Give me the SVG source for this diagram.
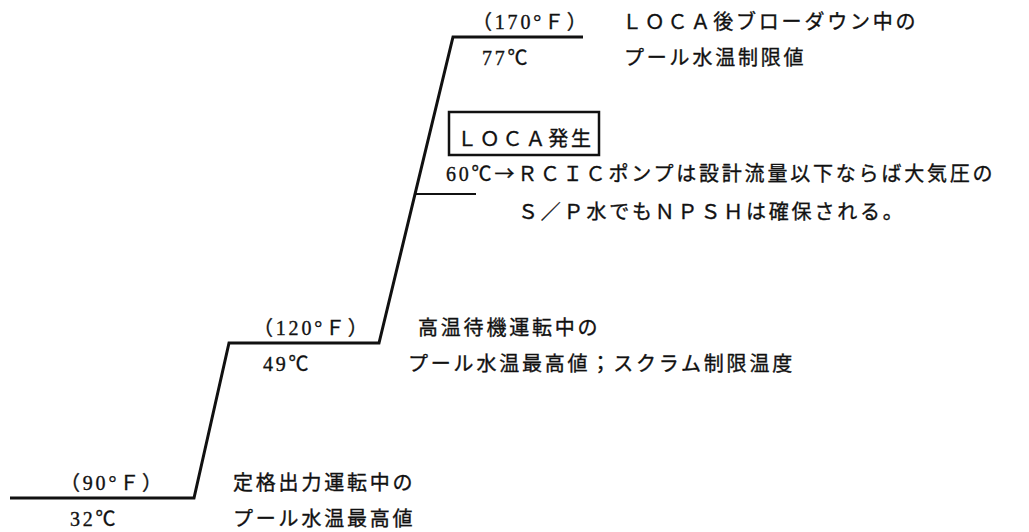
<svg xmlns="http://www.w3.org/2000/svg" width="1029" height="532" viewBox="0 0 1029 532">
<style>
text { font-family: "Liberation Serif", "Noto Sans CJK JP", serif; font-size: 20px; letter-spacing: 2.8px; fill: #111; stroke: #111; stroke-width: 0.35px; }
.cjk { font-family: "Noto Sans CJK JP", sans-serif; }
.stair { fill: none; stroke: #111; stroke-width: 3; stroke-linejoin: miter; }
.tick { stroke: #111; stroke-width: 2.2; }
.box { fill: none; stroke: #111; stroke-width: 2.5; }
</style>
<rect width="1029" height="532" fill="#fff"/>
<g id="connectors">
  <polyline class="stair" points="10,498 194,498 229,343 379,343 453,37 583,37"/>
  <line class="tick" x1="415" y1="194" x2="476" y2="194"/>
</g>
<g id="level-77">
  <text x="472" y="29">（170°Ｆ）</text>
  <text x="482" y="65">77℃</text>
  <text x="622" y="29">ＬＯＣＡ後ブローダウン中の</text>
  <text x="624" y="65">プール水温制限値</text>
</g>
<g id="loca">
  <rect class="box" x="449" y="112" width="150" height="43"/>
  <text x="457" y="146">ＬＯＣＡ発生</text>
</g>
<g id="level-60">
  <text x="446" y="181">60℃<tspan class="cjk">→</tspan>ＲＣＩＣポンプは設計流量以下ならば大気圧の</text>
  <text x="518" y="219">Ｓ／Ｐ水でもＮＰＳＨは確保される。</text>
</g>
<g id="level-49">
  <text x="253" y="335">（120°Ｆ）</text>
  <text x="263" y="371">49℃</text>
  <text x="418" y="335">高温待機運転中の</text>
  <text x="408" y="371">プール水温最高値；スクラム制限温度</text>
</g>
<g id="level-32">
  <text x="60" y="490">（90°Ｆ）</text>
  <text x="70" y="526">32℃</text>
  <text x="233" y="490">定格出力運転中の</text>
  <text x="233" y="526">プール水温最高値</text>
</g>
</svg>
